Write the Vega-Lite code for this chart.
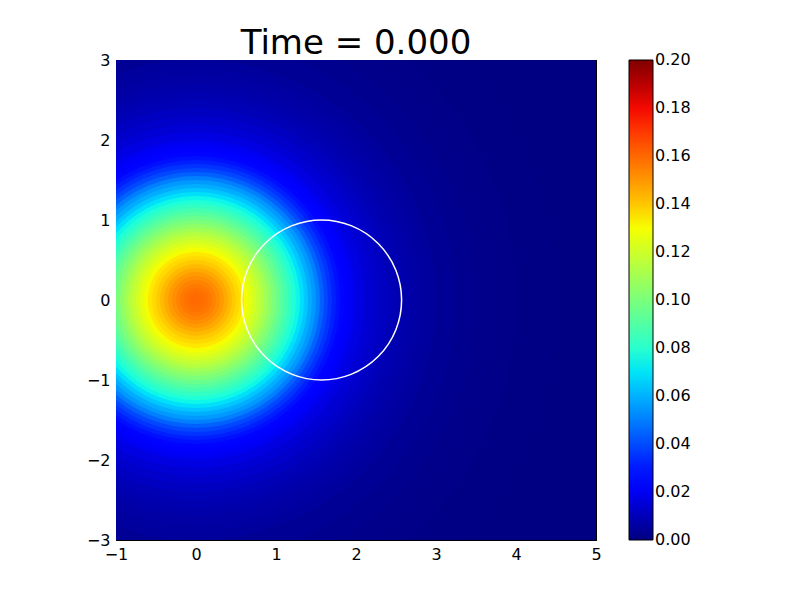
{
  "$schema": "https://vega.github.io/schema/vega-lite/v6.json",
  "width": 480,
  "height": 480,
  "autosize": "none",
  "padding": {"left": 116, "top": 60, "right": 204, "bottom": 60},
  "background": "white",
  "title": {"text": "Time = 0.000", "fontSize": 34, "font": "DejaVu Sans", "fontWeight": "normal", "color": "black", "anchor": "middle", "offset": 8, "baseline": "alphabetic", "dy": 44},
  "config": {
    "view": {"stroke": null},
    "axis": {"domainColor": "black", "domainWidth": 1, "tickColor": "black", "tickWidth": 1, "tickSize": -6, "labelPadding": 12, "labelFlush": false, "labelFont": "DejaVu Sans", "labelFontSize": 16, "labelColor": "black", "grid": false, "zindex": 1, "title": null},
    "legend": {"labelFont": "DejaVu Sans", "labelFontSize": 16, "labelColor": "black"}
  },
  "layer": [
    {
      "data": {"values": [
        {"cx": 0, "cy": 0, "r": 6.0, "v": 0.0001},
        {"cx": 0, "cy": 0, "r": 5.0, "v": 0.0004},
        {"cx": 0, "cy": 0, "r": 4.5, "v": 0.0007},
        {"cx": 0, "cy": 0, "r": 4.0, "v": 0.0013},
        {"cx": 0, "cy": 0, "r": 3.75, "v": 0.0018},
        {"cx": 0, "cy": 0, "r": 3.5, "v": 0.0025},
        {"cx": 0, "cy": 0, "r": 3.25, "v": 0.0034},
        {"cx": 0, "cy": 0, "r": 3.0, "v": 0.0048},
        {"cx": 0, "cy": 0, "r": 2.9, "v": 0.0055},
        {"cx": 0, "cy": 0, "r": 2.8, "v": 0.0063},
        {"cx": 0, "cy": 0, "r": 2.7, "v": 0.0072},
        {"cx": 0, "cy": 0, "r": 2.6, "v": 0.0082},
        {"cx": 0, "cy": 0, "r": 2.5, "v": 0.0095},
        {"cx": 0, "cy": 0, "r": 2.4, "v": 0.011},
        {"cx": 0, "cy": 0, "r": 2.3, "v": 0.0127},
        {"cx": 0, "cy": 0, "r": 2.2, "v": 0.0147},
        {"cx": 0, "cy": 0, "r": 2.1, "v": 0.017},
        {"cx": 0, "cy": 0, "r": 2.0, "v": 0.0195},
        {"cx": 0, "cy": 0, "r": 1.95, "v": 0.021},
        {"cx": 0, "cy": 0, "r": 1.9, "v": 0.023},
        {"cx": 0, "cy": 0, "r": 1.85, "v": 0.0255},
        {"cx": 0, "cy": 0, "r": 1.8, "v": 0.028},
        {"cx": 0, "cy": 0, "r": 1.75, "v": 0.031},
        {"cx": 0, "cy": 0, "r": 1.7, "v": 0.035},
        {"cx": 0, "cy": 0, "r": 1.65, "v": 0.039},
        {"cx": 0, "cy": 0, "r": 1.6, "v": 0.044},
        {"cx": 0, "cy": 0, "r": 1.55, "v": 0.050},
        {"cx": 0, "cy": 0, "r": 1.5, "v": 0.055},
        {"cx": 0, "cy": 0, "r": 1.45, "v": 0.059},
        {"cx": 0, "cy": 0, "r": 1.4, "v": 0.064},
        {"cx": 0, "cy": 0, "r": 1.35, "v": 0.069},
        {"cx": 0, "cy": 0, "r": 1.3, "v": 0.0735},
        {"cx": 0, "cy": 0, "r": 1.25, "v": 0.078},
        {"cx": 0, "cy": 0, "r": 1.2, "v": 0.0825},
        {"cx": 0, "cy": 0, "r": 1.15, "v": 0.087},
        {"cx": 0, "cy": 0, "r": 1.1, "v": 0.0915},
        {"cx": 0, "cy": 0, "r": 1.05, "v": 0.096},
        {"cx": 0, "cy": 0, "r": 1.0, "v": 0.1005},
        {"cx": 0, "cy": 0, "r": 0.95, "v": 0.105},
        {"cx": 0, "cy": 0, "r": 0.9, "v": 0.1095},
        {"cx": 0, "cy": 0, "r": 0.85, "v": 0.114},
        {"cx": 0, "cy": 0, "r": 0.8, "v": 0.118},
        {"cx": 0, "cy": 0, "r": 0.75, "v": 0.122},
        {"cx": 0, "cy": 0, "r": 0.7, "v": 0.126},
        {"cx": 0, "cy": 0, "r": 0.65, "v": 0.1295},
        {"cx": 0, "cy": 0, "r": 0.6, "v": 0.133},
        {"cx": 0, "cy": 0, "r": 0.55, "v": 0.136},
        {"cx": 0, "cy": 0, "r": 0.5, "v": 0.139},
        {"cx": 0, "cy": 0, "r": 0.45, "v": 0.1425},
        {"cx": 0, "cy": 0, "r": 0.4, "v": 0.146},
        {"cx": 0, "cy": 0, "r": 0.35, "v": 0.1491},
        {"cx": 0, "cy": 0, "r": 0.3, "v": 0.1519},
        {"cx": 0, "cy": 0, "r": 0.25, "v": 0.1544},
        {"cx": 0, "cy": 0, "r": 0.2, "v": 0.1564},
        {"cx": 0, "cy": 0, "r": 0.15, "v": 0.1579},
        {"cx": 0, "cy": 0, "r": 0.1, "v": 0.1591},
        {"cx": 0, "cy": 0, "r": 0.05, "v": 0.1598}
      ]},
      "mark": {"type": "point", "shape": "circle", "filled": true, "opacity": 1, "strokeWidth": 0, "clip": true},
      "encoding": {
        "x": {"field": "cx", "type": "quantitative", "scale": {"domain": [-1, 5], "nice": false, "zero": false}, "axis": {"orient": "bottom", "values": [-1, 0, 1, 2, 3, 4, 5]}},
        "y": {"field": "cy", "type": "quantitative", "scale": {"domain": [-3, 3], "nice": false, "zero": false}, "axis": {"orient": "left", "values": [-3, -2, -1, 0, 1, 2, 3]}},
        "size": {"field": "r", "type": "quantitative", "scale": {"type": "pow", "exponent": 2, "domain": [0, 1], "range": [0, 25600]}, "legend": null},
        "order": {"field": "r", "type": "quantitative", "sort": "descending"},
        "color": {"field": "v", "type": "quantitative",
          "scale": {"domain": [-0.0002, 0.022, 0.025, 0.068, 0.07, 0.075, 0.128, 0.13, 0.132, 0.178, 0.182, 0.2002],
                    "range": ["#000080", "#0000ff", "#0000ff", "#00dbff", "#00e5f7", "#14ffe2", "#eeff08", "#f7ff00", "#ffec00", "#ff1300", "#e80000", "#800000"],
                    "interpolate": "rgb"},
          "legend": {"title": null, "orient": "right", "offset": 32, "direction": "vertical", "gradientLength": 480, "gradientThickness": 24, "gradientStrokeColor": "black", "gradientStrokeWidth": 1, "values": [0, 0.02, 0.04, 0.06, 0.08, 0.1, 0.12, 0.14, 0.16, 0.18, 0.2], "format": ".2f", "labelOverlap": false}}
      }
    },
    {
      "data": {"values": [{"cx": 1.57, "cy": 0, "r": 1.0}]},
      "mark": {"type": "point", "shape": "circle", "filled": false, "stroke": "white", "strokeWidth": 1.5, "opacity": 1, "clip": true},
      "encoding": {
        "x": {"field": "cx", "type": "quantitative", "axis": {"orient": "top", "values": [-1, 0, 1, 2, 3, 4, 5], "labels": false}},
        "y": {"field": "cy", "type": "quantitative", "axis": {"orient": "right", "values": [-3, -2, -1, 0, 1, 2, 3], "labels": false}},
        "size": {"field": "r", "type": "quantitative", "legend": null}
      }
    }
  ],
  "resolve": {"axis": {"x": "independent", "y": "independent"}}
}
